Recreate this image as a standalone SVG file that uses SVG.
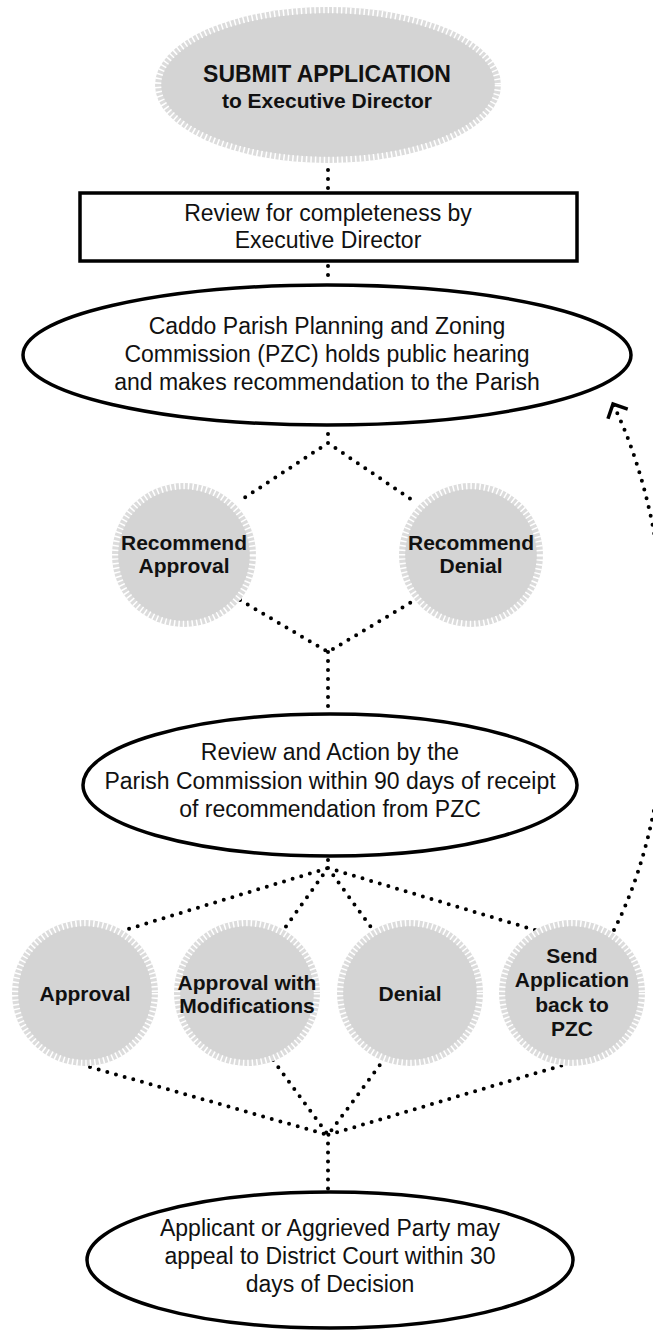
<svg xmlns="http://www.w3.org/2000/svg" width="653" height="1332" viewBox="0 0 653 1332">
  <style>
    text { font-family: "Liberation Sans", Arial, Helvetica, sans-serif; fill: #111; text-anchor: middle; }
    .t { font-size: 23px; }
    .b { font-size: 21px; font-weight: bold; }
    .box { fill: #fff; stroke: #000; stroke-width: 3.5; }
    .ring { fill: #dcdcdc; }
    .core { fill: #d4d4d4; }
    .ticks { fill: none; stroke: #fff; stroke-width: 6.5; stroke-dasharray: 1.5 3; }
    .dots { fill: none; stroke: #000; stroke-width: 4; stroke-linecap: round; stroke-dasharray: 0 9; }
  </style>
  <defs>
    <marker id="chevron" markerUnits="userSpaceOnUse" viewBox="-14 -14 18 28" refX="0" refY="0" markerWidth="18" markerHeight="28" orient="auto">
      <path d="M-11,-11 L0,0 L-11,11" fill="none" stroke="#000" stroke-width="3.5"/>
    </marker>
  </defs>

  <!-- connectors -->
  <g id="connectors">
    <path class="dots" d="M328,170 L328,193"/>
    <path class="dots" d="M328,266 L328,284"/>
    <path class="dots" d="M328,434 L328,443 L238,502 M328,443 L415,502"/>
    <path class="dots" d="M240,600 L328,652 L415,600 M328,652 L328,712"/>
    <path class="dots" d="M328,860 L328,868 L125,930 M328,868 L282,932 M328,868 L373,930 M328,868 L535,930"/>
    <path class="dots" d="M90,1067 L328,1135 M273,1060 L328,1135 M385,1058 L328,1135 M570,1063 L328,1135 L328,1192"/>
    <path class="dots" d="M614,930 C688,785 682,545 613,404" marker-end="url(#chevron)"/>
  </g>

  <!-- start -->
  <g id="submit">
    <ellipse class="ring" cx="328" cy="85" rx="173" ry="78"/>
    <ellipse class="core" cx="328" cy="85" rx="167" ry="72"/>
    <ellipse class="ticks" cx="328" cy="85" rx="170" ry="75"/>
    <text x="327" y="82" style="font-size:23px;font-weight:bold">SUBMIT APPLICATION</text>
    <text x="327" y="108" class="b">to Executive Director</text>
  </g>

  <g id="review-completeness">
    <rect class="box" x="80" y="193" width="497" height="68"/>
    <text class="t" x="328" y="221">Review for completeness by</text>
    <text class="t" x="328" y="248">Executive Director</text>
  </g>

  <g id="pzc-hearing">
    <ellipse class="box" cx="327" cy="355" rx="304" ry="70"/>
    <text class="t" x="327" y="334">Caddo Parish Planning and Zoning</text>
    <text class="t" x="327" y="362">Commission (PZC) holds public hearing</text>
    <text class="t" x="327" y="390">and makes recommendation to the Parish</text>
  </g>

  <g id="recommend-approval">
    <circle class="ring" cx="184" cy="555" r="72"/>
    <circle class="core" cx="184" cy="555" r="66"/>
    <circle class="ticks" cx="184" cy="555" r="69"/>
    <text class="b" x="184" y="550">Recommend</text>
    <text class="b" x="184" y="573">Approval</text>
  </g>

  <g id="recommend-denial">
    <circle class="ring" cx="471" cy="555" r="72"/>
    <circle class="core" cx="471" cy="555" r="66"/>
    <circle class="ticks" cx="471" cy="555" r="69"/>
    <text class="b" x="471" y="550">Recommend</text>
    <text class="b" x="471" y="573">Denial</text>
  </g>

  <g id="commission-review">
    <ellipse class="box" cx="330" cy="785" rx="247" ry="71"/>
    <text class="t" x="330" y="760">Review and Action by the</text>
    <text class="t" x="330" y="789">Parish Commission within 90 days of receipt</text>
    <text class="t" x="330" y="817">of recommendation from PZC</text>
  </g>

  <g id="approval">
    <circle class="ring" cx="85" cy="993" r="73"/>
    <circle class="core" cx="85" cy="993" r="67"/>
    <circle class="ticks" cx="85" cy="993" r="70"/>
    <text class="b" x="85" y="1001">Approval</text>
  </g>

  <g id="approval-modifications">
    <circle class="ring" cx="247" cy="993" r="73"/>
    <circle class="core" cx="247" cy="993" r="67"/>
    <circle class="ticks" cx="247" cy="993" r="70"/>
    <text class="b" x="247" y="990">Approval with</text>
    <text class="b" x="247" y="1013">Modifications</text>
  </g>

  <g id="denial">
    <circle class="ring" cx="410" cy="993" r="73"/>
    <circle class="core" cx="410" cy="993" r="67"/>
    <circle class="ticks" cx="410" cy="993" r="70"/>
    <text class="b" x="410" y="1001">Denial</text>
  </g>

  <g id="send-back">
    <circle class="ring" cx="572" cy="993" r="73"/>
    <circle class="core" cx="572" cy="993" r="67"/>
    <circle class="ticks" cx="572" cy="993" r="70"/>
    <text class="b" x="572" y="963">Send</text>
    <text class="b" x="572" y="987">Application</text>
    <text class="b" x="572" y="1012">back to</text>
    <text class="b" x="572" y="1036">PZC</text>
  </g>

  <g id="appeal">
    <ellipse class="box" cx="330" cy="1260" rx="243" ry="68"/>
    <text class="t" x="330" y="1236">Applicant or Aggrieved Party may</text>
    <text class="t" x="330" y="1264">appeal to District Court within 30</text>
    <text class="t" x="330" y="1292">days of Decision</text>
  </g>
</svg>
